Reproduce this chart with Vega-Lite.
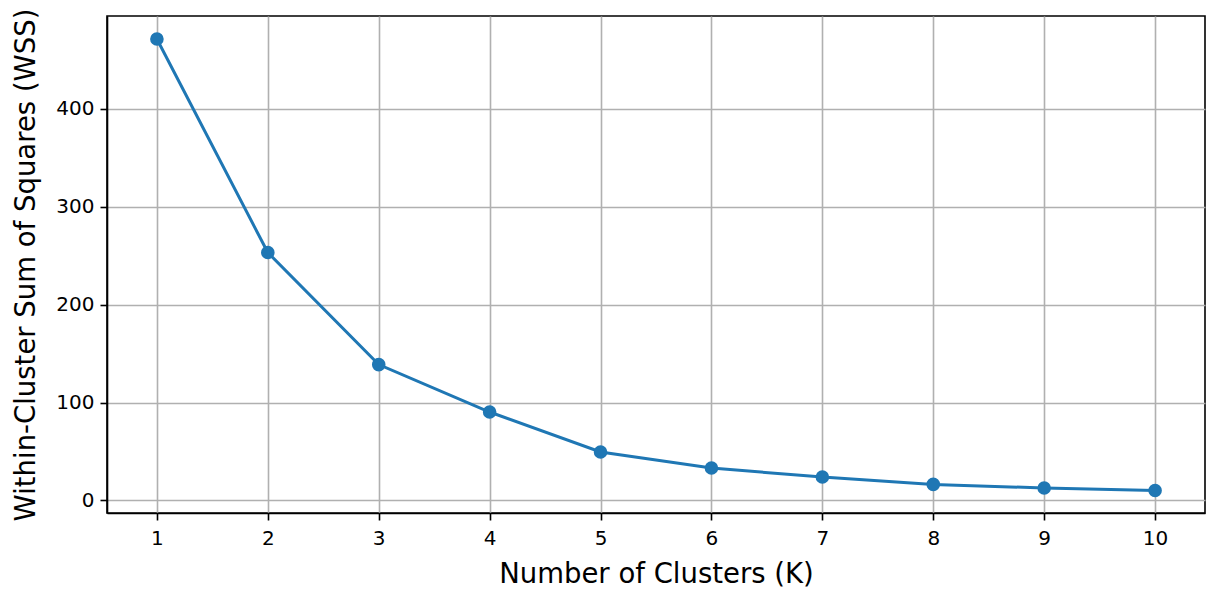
{
  "$schema": "https://vega.github.io/schema/vega-lite/v6.json",
  "autosize": "none",
  "width": 1098,
  "height": 497,
  "padding": {"left": 107, "top": 16, "right": 15, "bottom": 80},
  "background": "white",
  "config": {
    "view": {"stroke": "black", "strokeWidth": 1.6},
    "axis": {
      "labelFont": "DejaVu Sans",
      "titleFont": "DejaVu Sans",
      "labelFontSize": 20,
      "titleFontSize": 27.5,
      "titleFontWeight": "normal",
      "labelColor": "black",
      "titleColor": "black",
      "domainColor": "black",
      "domainWidth": 1.6,
      "tickColor": "black",
      "tickWidth": 1.6,
      "tickSize": 7,
      "labelPadding": 6,
      "gridColor": "#b0b0b0",
      "gridWidth": 1.6,
      "gridOpacity": 1
    }
  },
  "data": {
    "values": [
      {"K": 1, "WSS": 471.1},
      {"K": 2, "WSS": 253.1},
      {"K": 3, "WSS": 138.7},
      {"K": 4, "WSS": 90.3},
      {"K": 5, "WSS": 49.5},
      {"K": 6, "WSS": 33.1},
      {"K": 7, "WSS": 23.9},
      {"K": 8, "WSS": 16.4},
      {"K": 9, "WSS": 12.7},
      {"K": 10, "WSS": 10.2}
    ]
  },
  "encoding": {
    "x": {
      "field": "K",
      "type": "quantitative",
      "scale": {"domain": [0.55, 10.45], "nice": false, "zero": false},
      "axis": {"values": [1, 2, 3, 4, 5, 6, 7, 8, 9, 10], "title": "Number of Clusters (K)", "titlePadding": 12, "labelPadding": 8, "labelFlush": false}
    },
    "y": {
      "field": "WSS",
      "type": "quantitative",
      "scale": {"domain": [-12.8, 494.6], "nice": false, "zero": false},
      "axis": {"values": [0, 100, 200, 300, 400], "title": "Within-Cluster Sum of Squares (WSS)", "titlePadding": 15, "labelFlush": false}
    }
  },
  "layer": [
    {"mark": {"type": "line", "color": "#1f77b4", "strokeWidth": 3}},
    {"mark": {"type": "point", "shape": "circle", "filled": true, "color": "#1f77b4", "size": 185, "opacity": 1}}
  ]
}
